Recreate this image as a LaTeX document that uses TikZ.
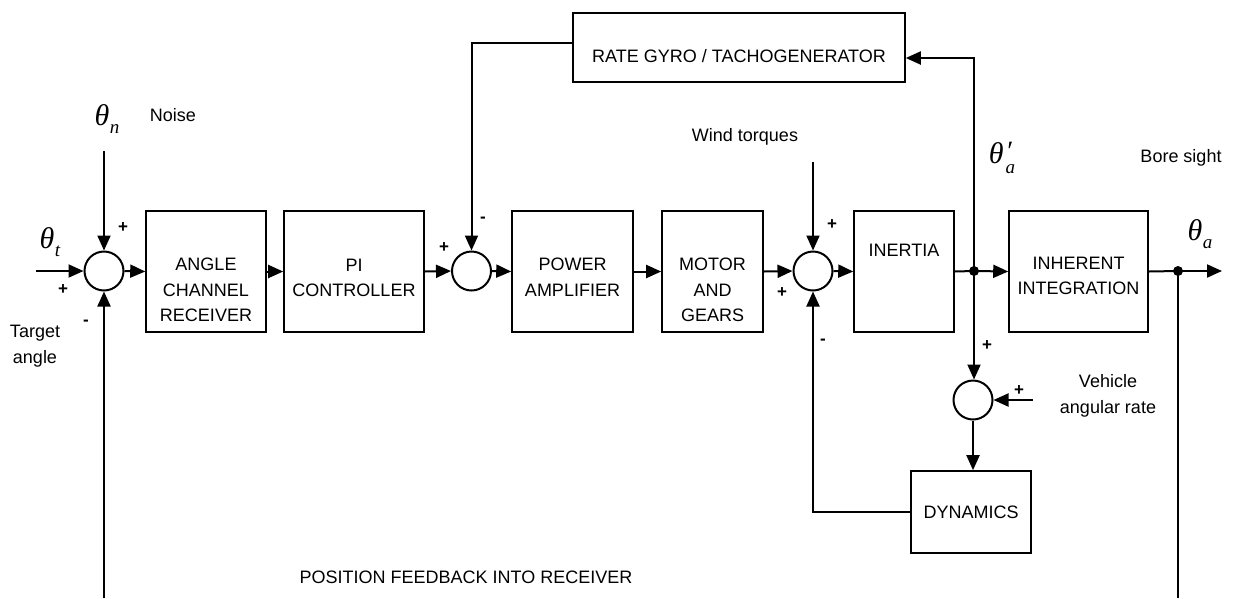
\documentclass[tikz,border=0pt]{standalone}
\usepackage{fontspec}
\setmainfont{Liberation Sans}
\newfontfamily\thfont{Liberation Serif}
\usetikzlibrary{arrows.meta,calc}
\newcommand{\thsym}[1]{{\thfont\itshape θ\kern0.5pt\raisebox{-8pt}{\fontsize{19}{19}\selectfont #1}}}
\newcommand{\thprime}[1]{{\thfont\itshape θ\kern2pt\rlap{\raisebox{3pt}{\fontsize{28}{28}\selectfont ′}}\raisebox{-10pt}{\fontsize{19}{19}\selectfont #1}}}
\begin{document}
\begin{tikzpicture}[x=1pt,y=-1pt,
  line width=2pt,
  blk/.style={draw, line width=1.6pt, minimum height=121pt, inner sep=0pt},
  txt/.style={font=\fontsize{18}{25.5}\selectfont, align=center, inner sep=0pt},
  sumc/.style={draw, circle, minimum size=39pt, inner sep=0pt, line width=2pt},
  arr/.style={-{Triangle[length=15pt,width=13pt]}},
  dotc/.style={circle, fill, minimum size=10pt, inner sep=0pt},
  sgn/.style={font=\fontsize{17}{17}\selectfont\bfseries, inner sep=0pt},
  th/.style={font=\fontsize{30}{30}\selectfont, inner sep=0pt}]
\useasboundingbox (0,0) rectangle (1236,598);

% blocks
\node[sumc] (s1) at (104,271) {};
\node[blk, minimum width=120pt] (acr) at (206,271.5) {};
\node[txt] (acrt) at (206,290) {ANGLE\\CHANNEL\\RECEIVER};
\node[blk, minimum width=140pt] (pi) at (354,271.5) {};
\node[txt] (pit) at (354,278) {PI\\CONTROLLER};
\node[sumc] (s2) at (471.5,271) {};
\node[blk, minimum width=121pt] (pa) at (572.5,271.5) {};
\node[txt] (pat) at (572.5,277) {POWER\\AMPLIFIER};
\node[blk, minimum width=101pt] (mg) at (712.5,271.5) {};
\node[txt] (mgt) at (712.5,290) {MOTOR\\AND\\GEARS};
\node[sumc] (s3) at (813,271) {};
\node[blk, minimum width=100pt] (in) at (904,271.5) {};
\node[txt] (int) at (904,250.5) {INERTIA};
\node[blk, minimum width=139pt] (ih) at (1078.5,271.5) {};
\node[txt] (iht) at (1078.5,276) {INHERENT\\INTEGRATION};
\node[draw, line width=1.6pt, minimum width=332pt, minimum height=69pt, inner sep=0pt] (rg) at (739,47.5) {};
\node[txt] (rgt) at (739,56) {RATE GYRO / TACHOGENERATOR};
\node[sumc] (s4) at (973,400) {};
\node[blk, txt, draw, line width=1.6pt, minimum width=120pt, minimum height=82pt] (dyn) at (971,512) {DYNAMICS};

% free ends
\coordinate (tin) at (36,271);
\coordinate (nin) at (104,151);
\coordinate (fbL) at (104,598);
\coordinate (fbR) at (1178,598);
\coordinate (out) at (1222,271);
\coordinate (vin) at (1033,400);
\coordinate (win) at (813,162);

% connectors
\draw[arr] (tin) -- (s1.west);
\draw[arr] (nin) -- (s1.north);
\draw[arr] (fbL) -- (s1.south);
\draw[arr] (s1.east) -- (acr.west);
\draw[arr] (acr.east) -- (pi.west);
\draw[arr] (pi.east) -- (s2.west);
\draw[arr] (s2.east) -- (pa.west);
\draw[arr] (pa.east) -- (mg.west);
\draw[arr] (mg.east) -- (s3.west);
\draw[arr] (s3.east) -- (in.west);
\node[dotc] (j1) at (974,271) {};
\node[dotc] (j2) at (1178,271) {};
\draw (in.east) -- (j1.center);
\draw[arr] (j1.center) -- (ih.west);
\draw (ih.east) -- (j2.center);
\draw[arr] (j2.center) -- (out);
\draw (j2.center) -- (fbR);
\draw[arr] (j1.center) |- ([yshift=-10.5pt]rg.east);
\draw[arr] ([yshift=4.5pt]rg.west) -| (s2.north);
\draw[arr] (j1.center) -- (j1.center |- s4.north);
\draw[arr] (vin) -- (s4.east);
\draw[arr] (s4.south) -- (s4.south |- dyn.north);
\draw[arr] (dyn.west) -| (s3.south);
\draw[arr] (win) -- (s3.north);

% signs
\node[sgn] (p1a) at (123,228) {+};
\node[sgn] (p1b) at (63,290) {+};
\node[sgn] (m1) at (86,323) {-};
\node[sgn] (p2) at (444,248) {+};
\node[sgn] (m2) at (483,220) {-};
\node[sgn] (p3a) at (832,225) {+};
\node[sgn] (p3b) at (782,293) {+};
\node[sgn] (m3) at (823,342) {-};
\node[sgn] (p4a) at (987,346) {+};
\node[sgn] (p4b) at (1019,391) {+};

% labels
\node[th] (tht) at (50,242) {\thsym{t}};
\node[th] (thn) at (107,119) {\thsym{n}};
\node[th] (thap) at (1002,158) {\thprime{a}};
\node[th] (tha) at (1200,234) {\thsym{a}};
\node[txt] (noise) at (173,115) {Noise};
\node[txt] (wind) at (745,137) {Wind torques};
\node[txt] (bore) at (1181,158) {Bore sight};
\node[txt] (target) at (35,346) {Target\\angle};
\node[txt] (veh) at (1108,396) {Vehicle\\angular rate};
\node[txt] (pos) at (466,577) {POSITION FEEDBACK INTO RECEIVER};
\end{tikzpicture}
\end{document}
